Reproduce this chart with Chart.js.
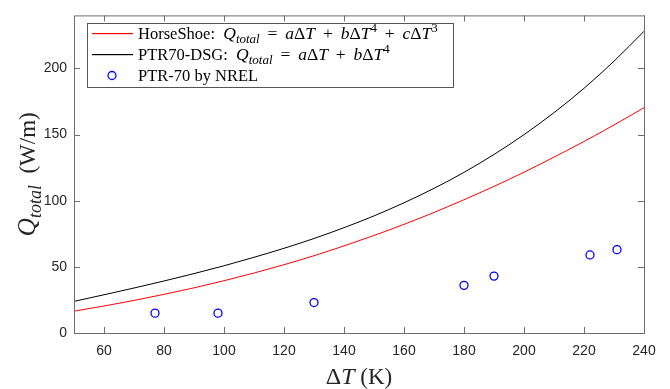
<!DOCTYPE html>
<html>
<head>
<meta charset="utf-8">
<script src="https://cdn.jsdelivr.net/npm/chart.js@4"></script>
<style>
html,body{margin:0;padding:0;background:#fff}
</style>
</head>
<body>
<canvas id="grafica" width="670" height="389"></canvas>
<script>
// DATOS
const deltaT = [50,60,70,80,90,100,110,120,130,140,150,160,170,180,190,200,210,220,230,240];
const qHorseShoe = [16.5,20.4,24.6,29.2,34.1,39.5,45.3,51.6,58.4,65.8,73.7,82.1,91.1,100.7,110.8,121.5,132.9,144.7,157.2,170.2];
const qPTR70DSG = [23.9,28.9,34.0,39.3,44.9,50.8,57.2,64.0,71.4,79.6,88.5,98.4,109.3,121.4,134.9,149.9,166.5,184.9,205.4,228.0];
const nrelT = [77,98,130,180,190,222,231];
const nrelQ = [15,15,23,36,43,59,63];
const xTicks = [60,80,100,120,140,160,180,200,220,240];
const yTicks = [0,50,100,150,200];
const colores = ['#ff0000', '#000000', '#0000ff'];

const serif = '"Liberation Serif", "Times New Roman", serif';
const sans = '"Liberation Sans", Arial, sans-serif';

// texto tipo LaTeX: r = normal, i = cursiva, sub/sup, op = operador con espacio
function segFont(st, size, m){
  if (st === 'i') return 'italic ' + m + 'px ' + serif;
  if (st === 'sub') return 'italic ' + Math.round(m*0.72) + 'px ' + serif;
  if (st === 'sup') return Math.round(m*0.72) + 'px ' + serif;
  if (st === 'op' || st === 'm') return m + 'px ' + serif;
  return size + 'px ' + serif;
}
function segWidth(ctx, s, size, m){
  ctx.font = segFont(s[1], size, m);
  let w = ctx.measureText(s[0]).width;
  if (s[1] === 'op') w += m*0.9;
  return w;
}
function richWidth(ctx, segs, size, m){
  let w = 0;
  segs.forEach(s => { w += segWidth(ctx, s, size, m); });
  return w;
}
function drawRich(ctx, segs, x, y, size, m){
  ctx.textBaseline = 'alphabetic';
  ctx.textAlign = 'left';
  segs.forEach(s => {
    ctx.font = segFont(s[1], size, m);
    let dy = 0, dx = 0;
    if (s[1] === 'sub') dy = m*0.24;
    if (s[1] === 'sup') dy = -m*0.4;
    if (s[1] === 'op') dx = m*0.45;
    ctx.fillText(s[0], x + dx, y + dy);
    x += segWidth(ctx, s, size, m);
  });
}

const legendRows = [
  [['HorseShoe:  ','r'],['Q','i'],['total','sub'],['=','op'],['a','i'],['\u0394','m'],['T','i'],['+','op'],['b','i'],['\u0394','m'],['T','i'],['4','sup'],['+','op'],['c','i'],['\u0394','m'],['T','i'],['3','sup']],
  [['PTR70-DSG:  ','r'],['Q','i'],['total','sub'],['=','op'],['a','i'],['\u0394','m'],['T','i'],['+','op'],['b','i'],['\u0394','m'],['T','i'],['4','sup']],
  [['PTR-70 by NREL','r']]
];
const xTitle = [['\u0394','m'],['T','i'],[' (K)','r']];
const yTitle = [['Q','i'],['total','sub'],['  (W/m)','r']];

const marcoPlugin = {
  id: 'marco',
  afterDraw(chart){
    const ctx = chart.ctx;
    const a = chart.chartArea;
    const sx = chart.scales.x, sy = chart.scales.y;
    ctx.save();
    ctx.strokeStyle = '#6e6e6e';
    ctx.lineWidth = 1;
    ctx.strokeRect(a.left + 0.5, a.top + 0.5, a.right - a.left, a.bottom - a.top);
    ctx.beginPath();
    xTicks.forEach(v => {
      const px = Math.round(sx.getPixelForValue(v)) + 0.5;
      ctx.moveTo(px, a.bottom); ctx.lineTo(px, a.bottom - 6);
      ctx.moveTo(px, a.top); ctx.lineTo(px, a.top + 6);
    });
    yTicks.forEach(v => {
      const py = Math.round(sy.getPixelForValue(v)) + 0.5;
      ctx.moveTo(a.left, py); ctx.lineTo(a.left + 6, py);
      ctx.moveTo(a.right, py); ctx.lineTo(a.right - 6, py);
    });
    ctx.stroke();

    // leyenda
    const lx = 87, ly = 23, lw = 366, lh = 64;
    ctx.fillStyle = '#fff';
    ctx.fillRect(lx, ly, lw, lh);
    ctx.strokeStyle = '#555';
    ctx.lineWidth = 1;
    ctx.strokeRect(lx + 0.5, ly + 0.5, lw, lh);
    for (let i = 0; i < 3; i++){
      const cy = 33 + i*21;
      if (i < 2){
        ctx.fillStyle = colores[i];
        ctx.fillRect(92, cy, 41, 1.2);
      } else {
        ctx.strokeStyle = colores[i];
        ctx.lineWidth = 1.3;
        ctx.beginPath(); ctx.arc(112, cy + 0.5, 4, 0, Math.PI*2); ctx.stroke();
      }
      ctx.fillStyle = '#000';
      drawRich(ctx, legendRows[i], 138, cy + 5.5, 16.5, 17.5);
    }

    // títulos de ejes
    ctx.fillStyle = '#262626';
    const wx = richWidth(ctx, xTitle, 23, 24);
    drawRich(ctx, xTitle, (a.left + a.right)/2 - wx/2, 384, 23, 24);
    const wy = richWidth(ctx, yTitle, 23, 25);
    ctx.translate(35, (a.top + a.bottom)/2);
    ctx.rotate(-Math.PI/2);
    drawRich(ctx, yTitle, -wy/2, 0, 23, 25);
    ctx.restore();
  }
};

new Chart(document.getElementById('grafica'), {
  type: 'line',
  data: {
    datasets: [{
      label: 'HorseShoe',
      data: deltaT.map((t, i) => ({x: t, y: qHorseShoe[i]})),
      borderColor: colores[0],
      borderWidth: 1,
      pointRadius: 0,
      cubicInterpolationMode: 'monotone'
    }, {
      label: 'PTR70-DSG',
      data: deltaT.map((t, i) => ({x: t, y: qPTR70DSG[i]})),
      borderColor: colores[1],
      borderWidth: 1,
      pointRadius: 0,
      cubicInterpolationMode: 'monotone'
    }, {
      label: 'PTR-70 by NREL',
      data: nrelT.map((t, i) => ({x: t, y: nrelQ[i]})),
      showLine: false,
      borderColor: colores[2],
      backgroundColor: 'rgba(0,0,0,0)',
      borderWidth: 1.3,
      pointRadius: 4,
      pointStyle: 'circle'
    }]
  },
  options: {
    responsive: false,
    animation: false,
    layout: {padding: {left: 0, right: 26, top: 7, bottom: 0}},
    plugins: {legend: {display: false}, tooltip: {enabled: false}},
    scales: {
      x: {
        type: 'linear', min: 50, max: 240,
        grid: {display: false, drawTicks: false},
        border: {display: false},
        ticks: {color: '#262626', font: {family: sans, size: 14}, padding: 10, maxRotation: 0},
        afterBuildTicks: s => { s.ticks = xTicks.map(v => ({value: v})); },
        afterFit: s => { s.height = 56; }
      },
      y: {
        type: 'linear', min: 0, max: 240,
        grid: {display: false, drawTicks: false},
        border: {display: false},
        ticks: {color: '#262626', font: {family: sans, size: 14}, padding: 7},
        afterBuildTicks: s => { s.ticks = yTicks.map(v => ({value: v})); },
        afterFit: s => { s.width = 74; }
      }
    }
  },
  plugins: [marcoPlugin]
});
</script>
</body>
</html>
